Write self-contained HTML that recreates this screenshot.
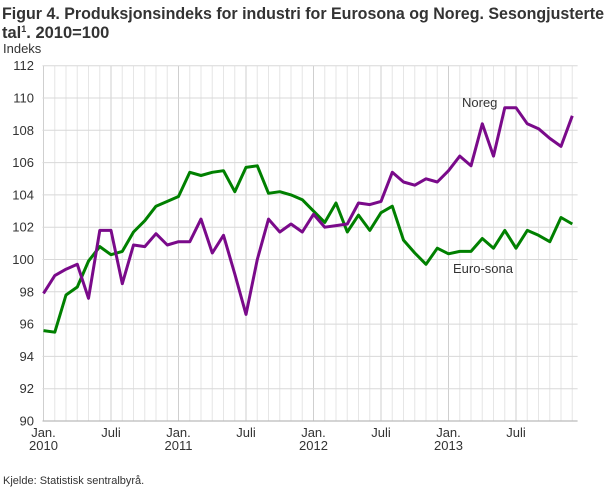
<!DOCTYPE html>
<html><head><meta charset="utf-8"><style>
body{margin:0;background:#fff;width:610px;height:488px;overflow:hidden;font-family:"Liberation Sans",sans-serif;}
</style></head><body>
<svg id="s" width="610" height="488" xmlns="http://www.w3.org/2000/svg" font-family="Liberation Sans, sans-serif">
<text x="2" y="19" font-size="16.5" font-weight="bold" fill="#333" textLength="602" lengthAdjust="spacingAndGlyphs">Figur 4. Produksjonsindeks for industri for Eurosona og Noreg. Sesongjusterte</text>
<text x="2" y="38" font-size="16.5" font-weight="bold" fill="#333">tal<tspan font-size="9" dy="-6">1</tspan><tspan dy="6">. 2010=100</tspan></text>
<text x="3" y="53" font-size="13" fill="#333">Indeks</text>
<g id="grid"></g>
<g id="lines"></g>
<text x="462" y="107" font-size="13" fill="#333">Noreg</text>
<text x="453" y="273" font-size="13" fill="#333">Euro-sona</text>
<text x="3" y="484" font-size="11" fill="#333">Kjelde: Statistisk sentralbyrå.</text>
</svg>
<script>
var NS="http://www.w3.org/2000/svg";
var x0=43.5,dx=11.25,right=577.6;
function Y(v){return 65.7+(112-v)*16.15;}
function el(p,t,a,txt){var e=document.createElementNS(NS,t);for(var k in a)e.setAttribute(k,a[k]);if(txt!=null)e.textContent=txt;p.appendChild(e);return e;}
var g=document.getElementById('grid');
for(var m=0;m<48;m++){var x=x0+m*dx;var major=(m%6==0);
 el(g,'line',{x1:x,x2:x,y1:65.7,y2:421,stroke:major?'#cfcfcf':'#e6e6e6','stroke-width':1});}
for(var v=90;v<=112;v+=2){var y=Y(v);
 el(g,'line',{x1:x0-1,x2:right,y1:y,y2:y,stroke:v==90?'#bbb':'#d8d8d8','stroke-width':v==90?1.2:1});
 el(g,'text',{x:34,y:y+4.5,'font-size':13,fill:'#333','text-anchor':'end'},String(v));}
var lab=[[0,'Jan.','2010'],[6,'Juli',''],[12,'Jan.','2011'],[18,'Juli',''],[24,'Jan.','2012'],[30,'Juli',''],[36,'Jan.','2013'],[42,'Juli','']];
lab.forEach(function(l){var x=x0+l[0]*dx;
 el(g,'text',{x:x,y:437,'font-size':13,fill:'#333','text-anchor':'middle'},l[1]);
 if(l[2])el(g,'text',{x:x,y:450,'font-size':13,fill:'#333','text-anchor':'middle'},l[2]);});
var nor=[97.9,99.0,99.4,99.7,97.6,101.8,101.8,98.5,100.9,100.8,101.6,100.9,
101.1,101.1,102.5,100.4,101.5,99.1,96.6,100.0,102.5,101.7,102.2,101.7,
102.8,102.0,102.1,102.2,103.5,103.4,103.6,105.4,104.8,104.6,105.0,104.8,
105.5,106.4,105.8,108.4,106.4,109.4,109.4,108.4,108.1,107.5,107.0,108.9];
var eur=[95.6,95.5,97.8,98.3,99.9,100.8,100.3,100.5,101.7,102.4,103.3,103.6,
103.9,105.4,105.2,105.4,105.5,104.2,105.7,105.8,104.1,104.2,104.0,103.7,
103.0,102.3,103.5,101.7,102.75,101.8,102.9,103.3,101.2,100.4,99.7,100.7,
100.35,100.5,100.5,101.3,100.7,101.8,100.7,101.8,101.5,101.1,102.6,102.2];
var L=document.getElementById('lines');
function pl(d,c){el(L,'polyline',{points:d.map(function(v,i){return (x0+i*dx).toFixed(1)+','+Y(v).toFixed(1);}).join(' '),fill:'none',stroke:c,'stroke-width':3,'stroke-linejoin':'round'});}
pl(eur,'#008000');pl(nor,'#7a0a8a');
</script>
</body></html>
